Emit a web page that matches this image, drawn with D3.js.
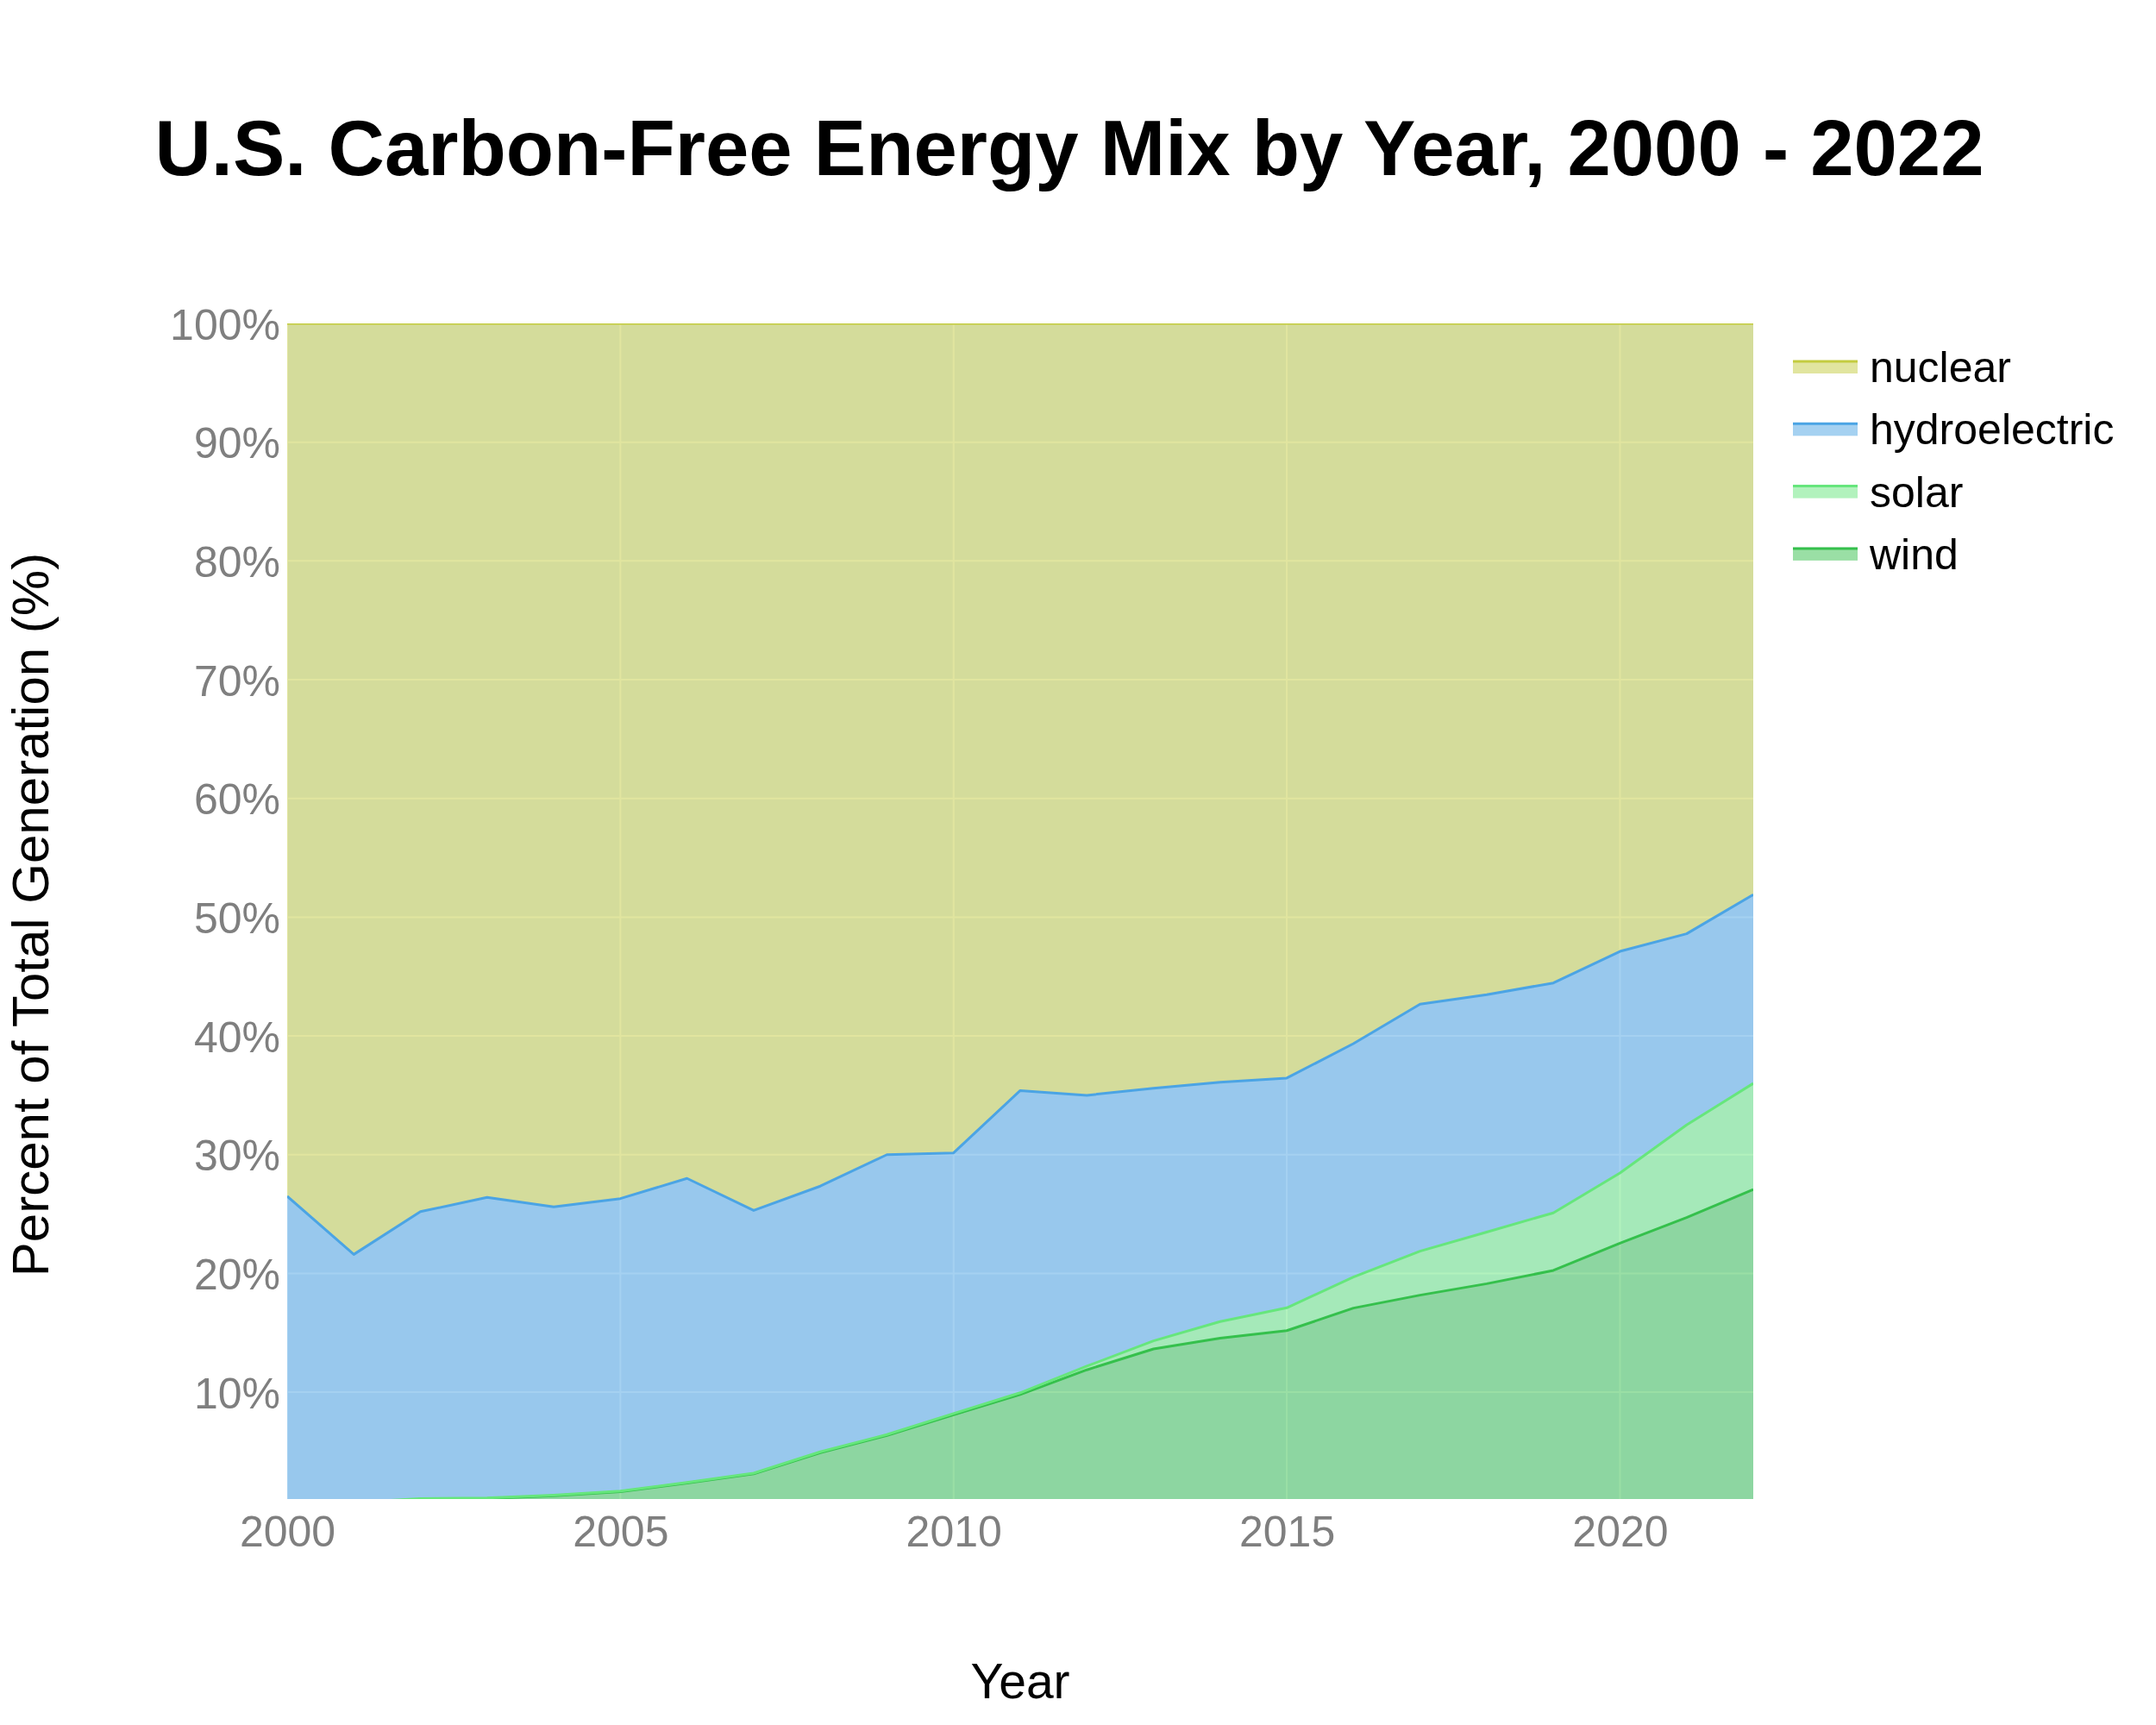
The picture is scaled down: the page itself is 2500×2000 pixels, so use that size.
<!DOCTYPE html>
<html><head><meta charset="utf-8">
<script src="https://cdn.jsdelivr.net/npm/d3@7"></script>
<style>
body{margin:0;background:#fff}
svg{display:block}
text{font-family:"Liberation Sans",Arial,Helvetica,sans-serif}
</style>
</head><body>
<svg id="chart" width="2500" height="2000"></svg>
<script>
// ---- data (percent of carbon-free generation) ----
const years = [2000,2001,2002,2003,2004,2005,2006,2007,2008,2009,2010,2011,2012,2013,2014,2015,2016,2017,2018,2019,2020,2021,2022];
const wind = [0.54,0.67,0.98,1.04,1.28,1.62,2.35,3.12,4.90,6.35,8.10,9.80,11.88,13.64,14.54,15.18,17.08,18.17,19.13,20.25,22.55,24.70,27.07];
const solar = [0.05,0.05,0.05,0.05,0.05,0.05,0.05,0.06,0.08,0.08,0.10,0.15,0.31,0.68,1.40,1.92,2.62,3.70,4.35,4.85,5.90,7.80,8.93];
const hydroelectric = [25.91,20.88,24.17,25.31,24.27,24.63,25.60,22.12,22.37,23.57,21.95,25.45,22.81,21.28,20.16,19.35,19.65,20.80,19.99,19.36,18.67,16.10,15.90];
const nuclear = [73.50,78.40,74.80,73.60,74.40,73.70,72.00,74.70,72.65,70.00,69.85,64.60,65.00,64.40,63.90,63.55,60.65,57.33,56.53,55.54,52.88,51.40,48.10];
const stackKeys = ["wind","solar","hydroelectric","nuclear"];
const legendKeys = ["nuclear","hydroelectric","solar","wind"];
const yTickValues = [10,20,30,40,50,60,70,80,90,100];
const xTickValues = [2000,2005,2010,2015,2020];
const colors = {nuclear:"#c3cc3f", hydroelectric:"#4ba4e4", solar:"#66e67c", wind:"#35c04c"};
const titleText = "U.S. Carbon-Free Energy Mix by Year, 2000 - 2022";
const xTitle = "Year";
const yTitle = "Percent of Total Generation (%)";

const rows = years.map((yr,i)=>({year:yr, wind:wind[i], solar:solar[i], hydroelectric:hydroelectric[i], nuclear:nuclear[i]}));

// ---- layout ----
const L=333, R=2033, T=375, B=1738;
const svg = d3.select("#chart");
const x = d3.scaleLinear().domain([2000,2022]).range([L,R]);
const y = d3.scaleLinear().domain([1,100]).range([B,T]);

svg.append("defs").append("clipPath").attr("id","plotclip")
  .append("rect").attr("x",L).attr("y",T).attr("width",R-L).attr("height",B-T);

svg.append("rect").attr("x",L).attr("y",T).attr("width",R-L).attr("height",B-T).attr("fill","#E5ECF6");

// grid
const grid = svg.append("g");
grid.selectAll("line.h").data(yTickValues).join("line")
  .attr("x1",L).attr("x2",R).attr("y1",d=>y(d)).attr("y2",d=>y(d))
  .attr("stroke","#fff").attr("stroke-width",2);
grid.selectAll("line.v").data(xTickValues).join("line")
  .attr("y1",T).attr("y2",B).attr("x1",d=>x(d)).attr("x2",d=>x(d))
  .attr("stroke","#fff").attr("stroke-width",2);

const stacked = d3.stack().keys(stackKeys)(rows);
const plot = svg.append("g").attr("clip-path","url(#plotclip)");
const area = d3.area().x(d=>x(d.data.year)).y0(d=>y(d[0])).y1(d=>y(d[1]));
const line = d3.line().x(d=>x(d.data.year)).y(d=>y(d[1]));

plot.selectAll("path.area").data(stacked).join("path")
  .attr("d",area).attr("fill",d=>colors[d.key]).attr("fill-opacity",0.5);
plot.selectAll("path.line").data(stacked).join("path")
  .attr("d",line).attr("fill","none").attr("stroke",d=>colors[d.key])
  .attr("stroke-width",3).attr("stroke-linejoin","round");

// axes
const yAxis = svg.append("g").attr("transform",`translate(${L},0)`)
  .call(d3.axisLeft(y).tickValues(yTickValues).tickFormat(d=>d+"%").tickSize(0).tickPadding(8));
yAxis.select(".domain").remove();
yAxis.selectAll("text").attr("font-size",50).attr("fill","#7f7f7f")
  .attr("font-family","'Liberation Sans',Arial,sans-serif").attr("dy","0.36em");

const xAxis = svg.append("g").attr("transform",`translate(0,${B})`)
  .call(d3.axisBottom(x).tickValues(xTickValues).tickFormat(d3.format("d")).tickSize(0).tickPadding(19));
xAxis.select(".domain").remove();
xAxis.selectAll("text").attr("font-size",50).attr("fill","#7f7f7f")
  .attr("font-family","'Liberation Sans',Arial,sans-serif");

// titles
svg.append("text").attr("x",1240).attr("y",203).attr("text-anchor","middle")
  .attr("font-size",90.5).attr("font-weight","bold").attr("fill","#000").text(titleText);
svg.append("text").attr("x",(L+R)/2).attr("y",1969).attr("text-anchor","middle")
  .attr("font-size",57).attr("fill","#000").text(xTitle);
svg.append("text").attr("transform",`translate(56,${(T+B)/2 + 4}) rotate(-90)`).attr("text-anchor","middle")
  .attr("font-size",60).attr("fill","#000").text(yTitle);

// legend
const lg = svg.append("g");
const item = lg.selectAll("g").data(legendKeys).join("g")
  .attr("transform",(d,i)=>`translate(2079,${418 + i*72.3})`);
item.append("rect").attr("x",0).attr("y",0).attr("width",75).attr("height",15)
  .attr("fill",d=>colors[d]).attr("fill-opacity",0.5);
item.append("line").attr("x1",0).attr("x2",75).attr("y1",1).attr("y2",1)
  .attr("stroke",d=>colors[d]).attr("stroke-width",3);
item.append("text").attr("x",89).attr("y",25).attr("font-size",50).attr("fill","#000").text(d=>d);
</script>
</body></html>
